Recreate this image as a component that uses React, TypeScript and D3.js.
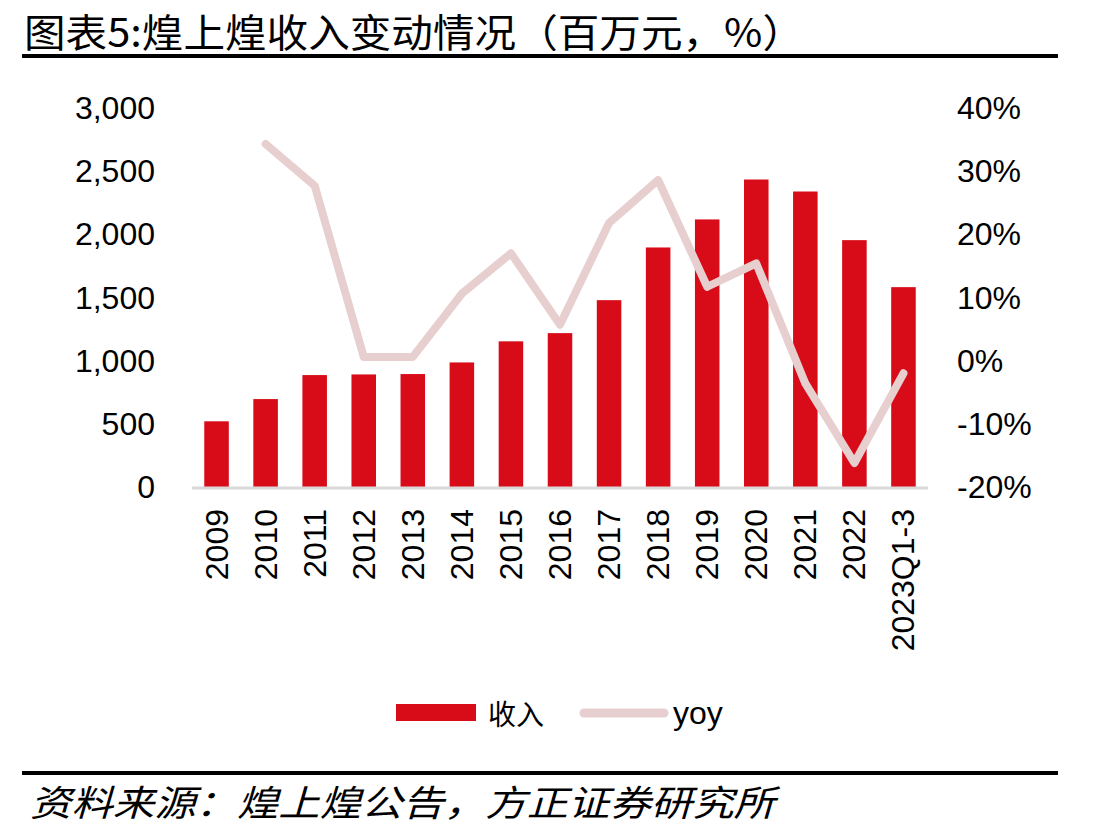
import React from "react";
import * as d3 from "d3";

const categories = ["2009","2010","2011","2012","2013","2014","2015","2016","2017","2018","2019","2020","2021","2022","2023Q1-3"];
const revenue = [520, 696, 886, 891, 894, 986, 1153, 1218, 1479, 1896, 2118, 2434, 2339, 1954, 1582];
const yoy: (number | null)[] = [null, 34.3, 27.7, 0.6, 0.6, 10.6, 17.0, 5.7, 21.8, 28.6, 11.7, 15.4, -3.6, -16.2, -2.0];
const leftTicks = [0, 500, 1000, 1500, 2000, 2500, 3000];
const rightTicks = [-20, -10, 0, 10, 20, 30, 40];

const title = "图表5:煌上煌收入变动情况（百万元，%）";
const source = "资料来源：煌上煌公告，方正证券研究所";
const legendBar = "收入";
const legendLine = "yoy";

export default function App() {
  const W = 1106, H = 840;
  const x = d3.scaleBand<string>().domain(categories).range([192, 928]).paddingInner(0.5).paddingOuter(0.25);
  const yL = d3.scaleLinear().domain([0, 3000]).range([487, 108]);
  const yR = d3.scaleLinear().domain([-20, 40]).range([487, 108]);
  const fmt = d3.format(",");
  const pts = categories.map((c, i) => ({ c, v: yoy[i] })).filter(d => d.v !== null) as { c: string; v: number }[];
  const line = d3.line<{ c: string; v: number }>()
    .x(d => (x(d.c) as number) + x.bandwidth() / 2)
    .y(d => yR(d.v));
  const barColor = "#d80c18";
  const lineColor = "#e8cfcf";
  const num = "'Liberation Sans', Arial, sans-serif";
  const cjk = "'Noto Sans CJK SC', sans-serif";
  return (
    <svg width={W} height={H} style={{ position: "absolute", left: 0, top: 0, background: "#fff" }}>
      <text x={24} y={47} fontFamily={cjk} fontSize={39} fontWeight={400} fill="#000"
        textLength={780} lengthAdjust="spacingAndGlyphs">{title}</text>
      <rect x={22} y={54} width={1036} height={4} fill="#000" />

      {revenue.map((v, i) => (
        <rect key={categories[i]} x={x(categories[i])} y={yL(v)} width={x.bandwidth()} height={yL(0) - yL(v)} fill={barColor} />
      ))}
      <line x1={192} x2={928} y1={488} y2={488} stroke="#d9d9d9" strokeWidth={3} />
      <path d={line(pts) || ""} fill="none" stroke={lineColor} strokeWidth={8} strokeLinejoin="round" strokeLinecap="round" />

      {leftTicks.map(t => (
        <text key={"l" + t} x={155} y={yL(t)} textAnchor="end" dominantBaseline="central" fontFamily={num} fontSize={32} fill="#000">{fmt(t)}</text>
      ))}
      {rightTicks.map(t => (
        <text key={"r" + t} x={957} y={yR(t)} textAnchor="start" dominantBaseline="central" fontFamily={num} fontSize={32} fill="#000">{t + "%"}</text>
      ))}
      {categories.map(c => {
        const cx = (x(c) as number) + x.bandwidth() / 2;
        return (
          <text key={"x" + c} x={0} y={0} transform={`translate(${cx},509) rotate(-90)`} textAnchor="end" dominantBaseline="central"
            fontFamily={num} fontSize={32} fill="#000">{c}</text>
        );
      })}

      <rect x={396} y={704} width={80} height={17} fill={barColor} />
      <text x={488} y={713} dominantBaseline="central" fontFamily={cjk} fontSize={28} fill="#000">{legendBar}</text>
      <line x1={584} x2={664} y1={713} y2={713} stroke={lineColor} strokeWidth={9} strokeLinecap="round" />
      <text x={673} y={713} dominantBaseline="central" fontFamily={num} fontSize={32} fill="#000">{legendLine}</text>

      <rect x={22} y={771} width={1036} height={4} fill="#000" />
      <text x={30} y={816} fontFamily={cjk} fontSize={36} fontStyle="italic" fill="#000"
        textLength={745} lengthAdjust="spacingAndGlyphs">{source}</text>
    </svg>
  );
}
